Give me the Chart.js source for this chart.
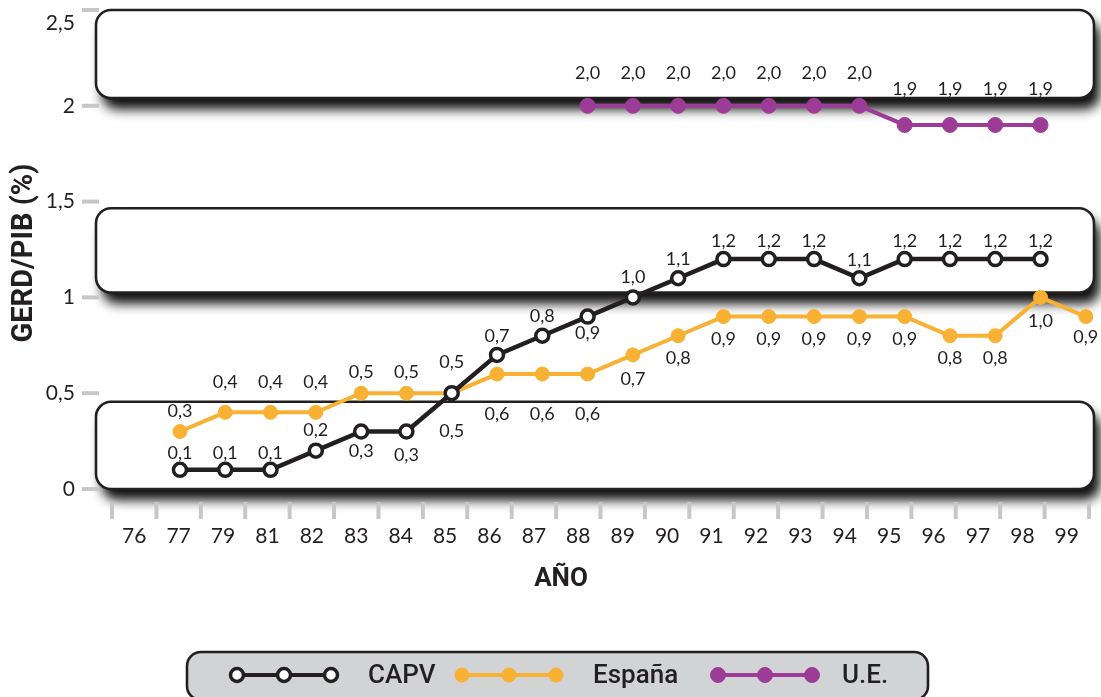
<!DOCTYPE html>
<html>
<head>
<meta charset="utf-8">
<script src="https://cdn.jsdelivr.net/npm/chart.js@4.4.1/dist/chart.umd.min.js"></script>
<style>
  html, body { margin: 0; padding: 0; background: #fff; }
  #wrap { width: 1101px; height: 697px; position: relative; }
</style>
</head>
<body>
<div id="wrap"><canvas id="chart"></canvas></div>
<script>
// years on the x axis
const years = ['76', '77', '79', '81', '82', '83', '84', '85', '86', '87', '88',
               '89', '90', '91', '92', '93', '94', '95', '96', '97', '98', '99'];

// GERD/PIB (%) by year, null where there is no point
const capv   = [null, 0.1, 0.1, 0.1, 0.2, 0.3, 0.3, 0.5, 0.7, 0.8, 0.9,
                1.0, 1.1, 1.2, 1.2, 1.2, 1.1, 1.2, 1.2, 1.2, 1.2, null];
const espana = [null, 0.3, 0.4, 0.4, 0.4, 0.5, 0.5, 0.5, 0.6, 0.6, 0.6,
                0.7, 0.8, 0.9, 0.9, 0.9, 0.9, 0.9, 0.8, 0.8, 1.0, 0.9];
const ue     = [null, null, null, null, null, null, null, null, null, null, 2.0,
                2.0, 2.0, 2.0, 2.0, 2.0, 2.0, 1.9, 1.9, 1.9, 1.9, null];

const yTicks = [0, 0.5, 1, 1.5, 2, 2.5];
const seriesNames = ['CAPV', 'España', 'U.E.'];

// where each value label sits, px above (-) or below (+) its point
const capvLabelDy = [0, -17, -17, -17, -20, 20, 24, 38, -19, -20, 17,
                     -20, -19, -18, -18, -18, -18, -18, -18, -18, -18, 0];
const espanaLabelDy = [0, -20, -30, -30, -30, -21, -21, -31, 40, 40, 40,
                       24, 22, 23, 23, 23, 23, 23, 22, 22, 24, 21];
const ueLabelDy = [0, 0, 0, 0, 0, 0, 0, 0, 0, 0, -33,
                   -33, -33, -33, -33, -33, -33, -36, -36, -36, -36, 0];

// white rounded bands behind the plot (y value ranges)
const bands = [[0, 0.455], [1.025, 1.465], [2.04, 2.5]];

const INK = '#231f20';
const ORANGE = '#f8b133';
const PURPLE = '#9d3c97';
const GREY = '#c6c7c9';
const FONT = 'Lato, "Open Sans", sans-serif';
const TITLE_FONT = 'Roboto, "DejaVu Sans", sans-serif';

const fmt = v => v.toFixed(1).replace('.', ',');
const toPoints = arr => arr.map((v, i) => ({ x: i, y: v })).filter(p => p.y !== null);

const decor = {
  id: 'decor',
  beforeDatasetsDraw(chart) {
    const { ctx, chartArea: a, scales } = chart;
    const y = scales.y;

    bands.forEach(([lo, hi]) => {
      const top = y.getPixelForValue(hi);
      const bot = y.getPixelForValue(lo);
      const l = a.left - 16, r = a.right + 5;
      ctx.save();
      ctx.shadowColor = 'rgba(0,0,0,0.95)';
      ctx.shadowBlur = 12;
      ctx.shadowOffsetX = 6;
      ctx.shadowOffsetY = 11;
      ctx.beginPath();
      ctx.roundRect(l, top, r - l, bot - top, 15);
      ctx.fillStyle = '#fff';
      ctx.fill();
      ctx.restore();
      ctx.save();
      ctx.beginPath();
      ctx.roundRect(l, top, r - l, bot - top, 15);
      ctx.lineWidth = 2.6;
      ctx.strokeStyle = INK;
      ctx.stroke();
      ctx.restore();
    });

    ctx.save();
    ctx.strokeStyle = GREY;
    ctx.lineWidth = 4;
    ctx.fillStyle = INK;
    ctx.font = '21px ' + FONT;
    ctx.textAlign = 'right';
    ctx.textBaseline = 'middle';
    // y tick marks and labels (top label kept inside the page)
    yTicks.forEach(v => {
      const py = y.getPixelForValue(v);
      ctx.beginPath();
      ctx.moveTo(a.left - 30, py);
      ctx.lineTo(a.left - 13, py);
      ctx.stroke();
      ctx.fillText(String(v).replace('.', ','), a.left - 37, Math.max(py, a.top + 13));
    });
    // x tick marks between the years
    const step = a.width / years.length;
    for (let i = 0; i <= years.length; i++) {
      const px = a.left + i * step;
      ctx.beginPath();
      ctx.moveTo(px, a.bottom + 13);
      ctx.lineTo(px, a.bottom + 30);
      ctx.stroke();
    }
    ctx.restore();
  },
  afterDatasetsDraw(chart) {
    const { ctx } = chart;
    ctx.save();
    ctx.font = '18px ' + FONT;
    ctx.fillStyle = INK;
    ctx.textAlign = 'center';
    ctx.textBaseline = 'middle';
    chart.data.datasets.forEach((ds, di) => {
      const meta = chart.getDatasetMeta(di);
      meta.data.forEach((el, j) => {
        const p = ds.data[j];
        ctx.fillText(fmt(p.y), el.x, el.y + ds.labelDy[p.x]);
      });
    });
    ctx.restore();
  },
  afterDraw(chart) {
    const { ctx } = chart;
    ctx.save();
    // axis titles
    ctx.fillStyle = INK;
    ctx.font = 'bold 26px ' + TITLE_FONT;
    ctx.textAlign = 'center';
    ctx.textBaseline = 'middle';
    ctx.fillText('AÑO', 561, 579);
    ctx.save();
    ctx.translate(25, 253);
    ctx.rotate(-Math.PI / 2);
    ctx.font = 'bold 29px ' + TITLE_FONT;
    ctx.fillText('GERD/PIB (%)', 0, 0);
    ctx.restore();

    // legend
    ctx.beginPath();
    ctx.roundRect(187, 652, 741, 48, 14);
    ctx.fillStyle = '#d1d3d4';
    ctx.fill();
    ctx.lineWidth = 2.6;
    ctx.strokeStyle = INK;
    ctx.stroke();

    const itemX = [237, 462, 718];
    const textX = [368, 593, 842];
    const ly = 675;
    chart.data.datasets.forEach((ds, i) => {
      const x0 = itemX[i];
      ctx.beginPath();
      ctx.moveTo(x0, ly);
      ctx.lineTo(x0 + 94, ly);
      ctx.lineWidth = 4;
      ctx.strokeStyle = ds.borderColor;
      ctx.stroke();
      for (let k = 0; k < 3; k++) {
        ctx.beginPath();
        ctx.arc(x0 + k * 47, ly, ds.pointRadius, 0, Math.PI * 2);
        ctx.fillStyle = ds.pointBackgroundColor;
        ctx.fill();
        ctx.lineWidth = ds.pointBorderWidth;
        ctx.strokeStyle = ds.borderColor;
        ctx.stroke();
      }
      ctx.fillStyle = INK;
      ctx.font = '500 26px ' + TITLE_FONT;
      ctx.textAlign = 'left';
      ctx.fillText(ds.label, textX[i], ly + 1);
    });
    ctx.restore();
  }
};

new Chart(document.getElementById('chart').getContext('2d'), {
  type: 'line',
  data: {
    labels: years,
    datasets: [
      {
        label: seriesNames[0],
        data: toPoints(capv),
        xAxisID: 'xp',
        borderColor: INK,
        borderWidth: 4.5,
        pointRadius: 6.5,
        pointBorderWidth: 3.5,
        pointBackgroundColor: '#fff',
        pointBorderColor: INK,
        labelDy: capvLabelDy,
        clip: false,
        tension: 0
      },
      {
        label: seriesNames[1],
        data: toPoints(espana),
        xAxisID: 'xp',
        borderColor: ORANGE,
        borderWidth: 4,
        pointRadius: 7,
        pointBorderWidth: 1,
        pointBackgroundColor: ORANGE,
        pointBorderColor: ORANGE,
        labelDy: espanaLabelDy,
        clip: false,
        tension: 0
      },
      {
        label: seriesNames[2],
        data: toPoints(ue),
        xAxisID: 'xp',
        borderColor: PURPLE,
        borderWidth: 4,
        pointRadius: 7.5,
        pointBorderWidth: 1,
        pointBackgroundColor: PURPLE,
        pointBorderColor: PURPLE,
        labelDy: ueLabelDy,
        clip: false,
        tension: 0
      }
    ]
  },
  options: {
    responsive: true,
    maintainAspectRatio: false,
    animation: false,
    events: [],
    layout: { padding: { top: 9, right: 12, left: 0, bottom: 0 } },
    plugins: {
      legend: { display: false },
      tooltip: { enabled: false }
    },
    scales: {
      x: {
        type: 'category',
        offset: true,
        grid: { display: false, drawTicks: false },
        border: { display: false },
        ticks: {
          color: INK,
          font: { family: FONT, size: 21 },
          padding: 35,
          maxRotation: 0,
          minRotation: 0,
          autoSkip: false
        },
        afterFit(scale) {
          scale.height = 208;
          scale.paddingLeft = 0;
          scale.paddingRight = 0;
        }
      },
      xp: {
        type: 'linear',
        display: false,
        min: -0.5,
        max: 21.07
      },
      y: {
        min: 0,
        max: 2.5,
        grid: { display: false, drawTicks: false },
        border: { display: false },
        ticks: { display: false, stepSize: 0.5 },
        afterFit(scale) {
          scale.width = 112;
          scale.paddingTop = 0;
          scale.paddingBottom = 0;
        }
      }
    }
  },
  plugins: [decor]
});
</script>
</body>
</html>
